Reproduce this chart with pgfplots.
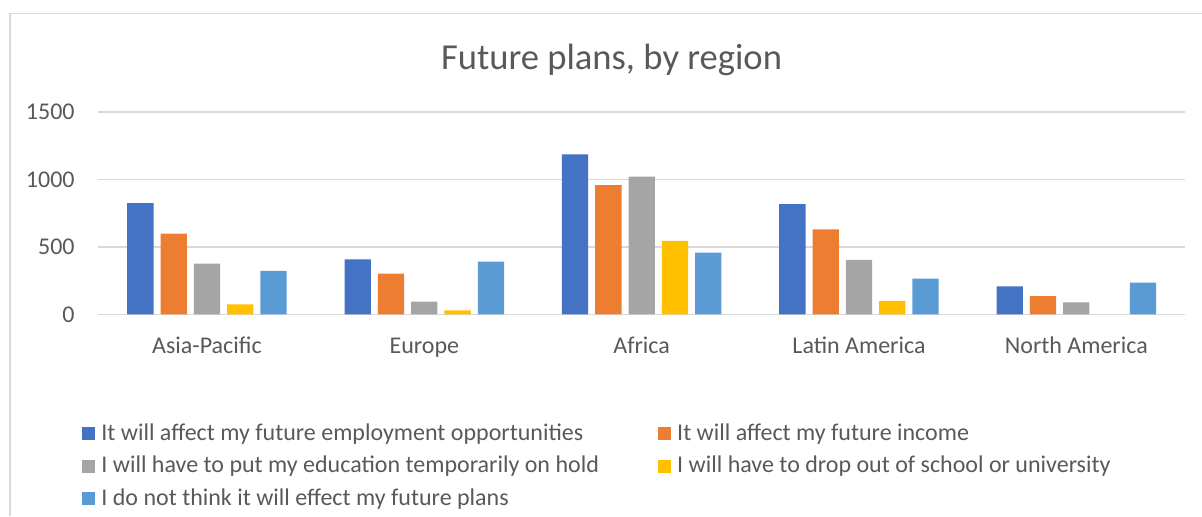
\documentclass[border=0pt]{standalone}
\usepackage{fontspec}
\setmainfont{Carlito}
\usepackage{pgfplots}
\pgfplotsset{compat=1.18}
\definecolor{txt}{HTML}{595959}
\definecolor{gridc}{HTML}{D9D9D9}
\definecolor{s1}{HTML}{4472C4}
\definecolor{s2}{HTML}{ED7D31}
\definecolor{s3}{HTML}{A5A5A5}
\definecolor{s4}{HTML}{FFC000}
\definecolor{s5}{HTML}{5B9BD5}
% first legend column gets a fixed width so the second one starts where it should
\newcommand{\colone}[1]{\makebox[274.8pt][l]{#1}}
\begin{document}
\begin{tikzpicture}
\path[use as bounding box] (0,0) rectangle (601pt,258pt);
\draw[gridc, line width=0.65pt] (5pt,0) -- (5pt,251.1pt) -- (601pt,251.1pt);
\begin{axis}[
 at={(49.15pt,100.85pt)}, anchor=south west,
 scale only axis, width=543.35pt, height=101.15pt,
 ybar=3.5pt, bar width=13.15pt,
 xmin=-0.5, xmax=4.5, ymin=0, ymax=1500,
 xtick={0,1,2,3,4},
 xticklabels={Asia-Pacific,Europe,Africa,Latin America,North America},
 ytick={0,500,1000,1500},
 major tick length=0pt,
 axis line style={draw=none},
 ymajorgrids, grid style={gridc, line width=0.65pt},
 /pgf/number format/assume math mode=true,
 /pgf/number format/1000 sep={},
 tick label style={font=\fontsize{12}{14}\selectfont, text=txt, inner sep=0pt},
 xticklabel style={anchor=base, yshift=-19.5pt},
 yticklabel style={anchor=east, xshift=-11.65pt},
 title={Future plans, by region},
 every axis title/.style={at={(0.4723,1.212)}, anchor=base, font=\fontsize{18.3}{22}\selectfont, text=txt},
 legend columns=2,
 legend cell align=left,
 legend style={at={(-0.01518,-0.5373)}, anchor=north west, draw=none, fill=none,
   inner sep=0pt, outer sep=0pt, font=\fontsize{12}{14}\selectfont, text=txt,
   column sep=3.3pt, row sep=5.35pt,
   nodes={inner sep=0pt, outer sep=0pt, text height=8.5pt, text depth=2.5pt, anchor=base west}},
 every axis plot/.append style={draw=none,
   legend image code/.code={\fill[##1,draw=none] (0pt,0pt) rectangle (6.5pt,6.6pt);}},
]
\addplot[fill=s1] coordinates {(0,824) (1,408) (2,1186) (3,817) (4,208)};
\addlegendentry{\colone{It will affect my future employment opportunities}}
\addplot[fill=s2] coordinates {(0,599) (1,302) (2,958) (3,629) (4,134)};
\addlegendentry{It will affect my future income}
\addplot[fill=s3] coordinates {(0,376) (1,94) (2,1020) (3,403) (4,89)};
\addlegendentry{\colone{I will have to put my education temporarily on hold}}
% North America has no bar for this answer
\addplot[fill=s4] coordinates {(0,74) (1,30) (2,545) (3,99)};
\addlegendentry{I will have to drop out of school or university}
\addplot[fill=s5] coordinates {(0,322) (1,391) (2,458) (3,265) (4,235)};
\addlegendentry{\colone{I do not think it will effect my future plans}}
\end{axis}
\end{tikzpicture}
\end{document}
